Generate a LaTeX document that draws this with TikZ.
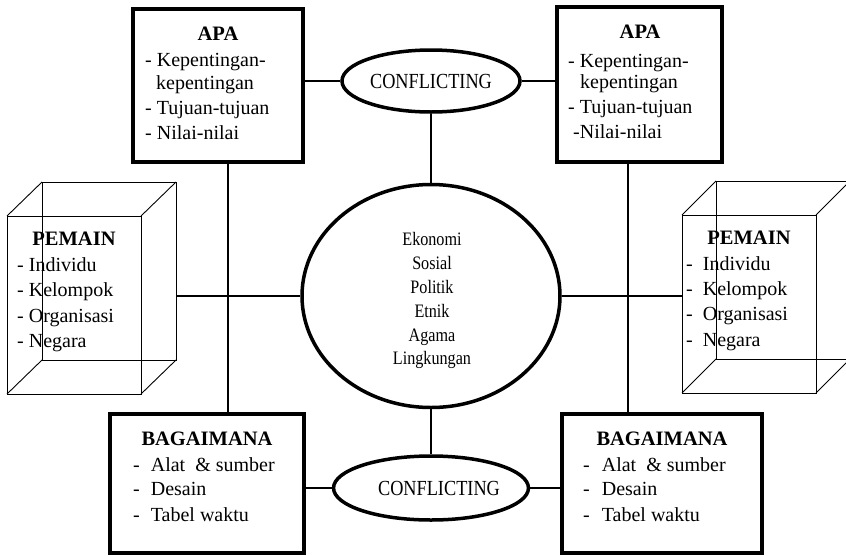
\documentclass[tikz,border=0pt]{standalone}
\usepackage{fontspec}
\setmainfont{Liberation Serif}
\newfontfamily\condfont{Liberation Serif}[FakeStretch=0.85]
\usetikzlibrary{shapes.geometric}
\begin{document}
\begin{tikzpicture}[x=1pt,y=-1pt,
  boxst/.style={draw, rectangle, line width=3.5pt, inner sep=0pt},
  ellst/.style={draw, ellipse, line width=3.5pt, inner sep=0pt},
  conn/.style={line width=1.8pt},
  cubest/.style={line width=0.9pt},
  txt/.style={anchor=base west, inner sep=0pt, font=\fontsize{20}{24}\selectfont},
  ttl/.style={anchor=base, inner sep=0pt, font=\fontsize{20.5}{24}\selectfont\bfseries},
  ctxt/.style={anchor=base, inner sep=0pt, font=\condfont\fontsize{19}{22}\selectfont},
  conf/.style={font=\condfont\fontsize{21.5}{22}\selectfont}]
\useasboundingbox (0,0) rectangle (846,555);

% cubes
\coordinate (cLf1) at (7,216);   \coordinate (cLf2) at (141,216);
\coordinate (cLf3) at (141,394); \coordinate (cLf4) at (7,394);
\coordinate (cLb1) at (42,182);  \coordinate (cLb2) at (176,182);
\coordinate (cLb3) at (176,360); \coordinate (cLb4) at (42,360);
\draw[cubest] (cLf1) -- (cLf2) -- (cLf3) -- (cLf4) -- cycle;
\draw[cubest] (cLb1) -- (cLb2) -- (cLb3) -- (cLb4) -- cycle;
\draw[cubest] (cLf1) -- (cLb1) (cLf2) -- (cLb2) (cLf3) -- (cLb3) (cLf4) -- (cLb4);

\coordinate (cRf1) at (682,215); \coordinate (cRf2) at (816,215);
\coordinate (cRf3) at (816,393); \coordinate (cRf4) at (682,393);
\coordinate (cRb1) at (716,181); \coordinate (cRb2) at (850,181);
\coordinate (cRb3) at (850,359); \coordinate (cRb4) at (716,359);
\draw[cubest] (cRf1) -- (cRf2) -- (cRf3) -- (cRf4) -- cycle;
\draw[cubest] (cRb1) -- (cRb2) -- (cRb3) -- (cRb4) -- cycle;
\draw[cubest] (cRf1) -- (cRb1) (cRf2) -- (cRb2) (cRf3) -- (cRb3) (cRf4) -- (cRb4);

% boxes
\node[boxst, minimum width=170pt, minimum height=153pt] (apaL) at (218,85.5) {};
\node[boxst, minimum width=165pt, minimum height=155pt] (apaR) at (639.5,84.5) {};
\node[boxst, minimum width=194pt, minimum height=139pt] (bagL) at (207,483.5) {};
\node[boxst, minimum width=200pt, minimum height=139pt] (bagR) at (662,483.5) {};

% ellipses
\node[ellst, conf, minimum width=178pt, minimum height=62pt] (cT) at (431,81) {CONFLICTING};
\node[ellst, minimum width=258pt, minimum height=223pt] (ctr) at (431,296) {};
\node[ellst, conf, minimum width=182pt, minimum height=64pt] (cB) at (431,488) {\hspace*{16pt}CONFLICTING};

% connectors
\coordinate (vL) at (228,0);
\coordinate (vR) at (628,0);
\coordinate (cubeLr) at (176,296);
\coordinate (cubeRl) at (682,296);
\draw[conn] (apaL.east |- cT.west) -- (cT.west);
\draw[conn] (cT.east) -- (cT.east -| apaR.west);
\draw[conn] (cT.south) -- (ctr.north);
\draw[conn] (ctr.south) -- (cB.north);
\draw[conn] (bagL.east |- cB.west) -- (cB.west);
\draw[conn] (cB.east) -- (cB.east -| bagR.west);
\draw[conn] (apaL.south -| vL) -- (bagL.north -| vL);
\draw[conn] (apaR.south -| vR) -- (bagR.north -| vR);
\draw[conn] (cubeLr) -- (ctr.west);
\draw[conn] (ctr.east) -- (cubeRl);

% APA left
\node[ttl] (apaLt) at (218,40) {APA};
\node[txt] (apaL1) at (145,66) {- Kepentingan-};
\node[txt] (apaL2) at (156,89) {kepentingan};
\node[txt] (apaL3) at (145,114) {- Tujuan-tujuan};
\node[txt] (apaL4) at (145,139) {- Nilai-nilai};

% APA right
\node[ttl] (apaRt) at (640,38) {APA};
\node[txt] (apaR1) at (568,67) {- Kepentingan-};
\node[txt] (apaR2) at (580,88) {kepentingan};
\node[txt] (apaR3) at (568,113) {- Tujuan-tujuan};
\node[txt] (apaR4) at (573,138) {-Nilai-nilai};

% PEMAIN left
\node[ttl] (pemLt) at (74,245) {PEMAIN};
\node[txt] (pemL1) at (17,271) {- Individu};
\node[txt] (pemL2) at (17,296) {- Kelompok};
\node[txt] (pemL3) at (17,322) {- Organisasi};
\node[txt] (pemL4) at (17,347) {- Negara};

% PEMAIN right
\node[ttl] (pemRt) at (749,244) {PEMAIN};
\node[txt] (pemR1) at (686,270) {-\hspace{10pt}Individu};
\node[txt] (pemR2) at (686,295) {-\hspace{10pt}Kelompok};
\node[txt] (pemR3) at (686,320) {-\hspace{10pt}Organisasi};
\node[txt] (pemR4) at (686,346) {-\hspace{10pt}Negara};

% center
\node[ctxt] (e1) at (432,245) {Ekonomi};
\node[ctxt] (e2) at (432,269) {Sosial};
\node[ctxt] (e3) at (432,293) {Politik};
\node[ctxt] (e4) at (432,317) {Etnik};
\node[ctxt] (e5) at (432,341) {Agama};
\node[ctxt] (e6) at (432,364) {Lingkungan};

% BAGAIMANA left
\node[ttl] (bagLt) at (207,445) {BAGAIMANA};
\node[txt] (bagL1) at (133,471) {-\hspace{11pt}Alat\ \ \& sumber};
\node[txt] (bagL2) at (133,495) {-\hspace{11pt}Desain};
\node[txt] (bagL3) at (133,521) {-\hspace{11pt}Tabel waktu};

% BAGAIMANA right
\node[ttl] (bagRt) at (662,445) {BAGAIMANA};
\node[txt] (bagR1) at (583,471) {-\hspace{12pt}Alat\ \ \& sumber};
\node[txt] (bagR2) at (583,495) {-\hspace{12pt}Desain};
\node[txt] (bagR3) at (583,521) {-\hspace{12pt}Tabel waktu};
\end{tikzpicture}
\end{document}
